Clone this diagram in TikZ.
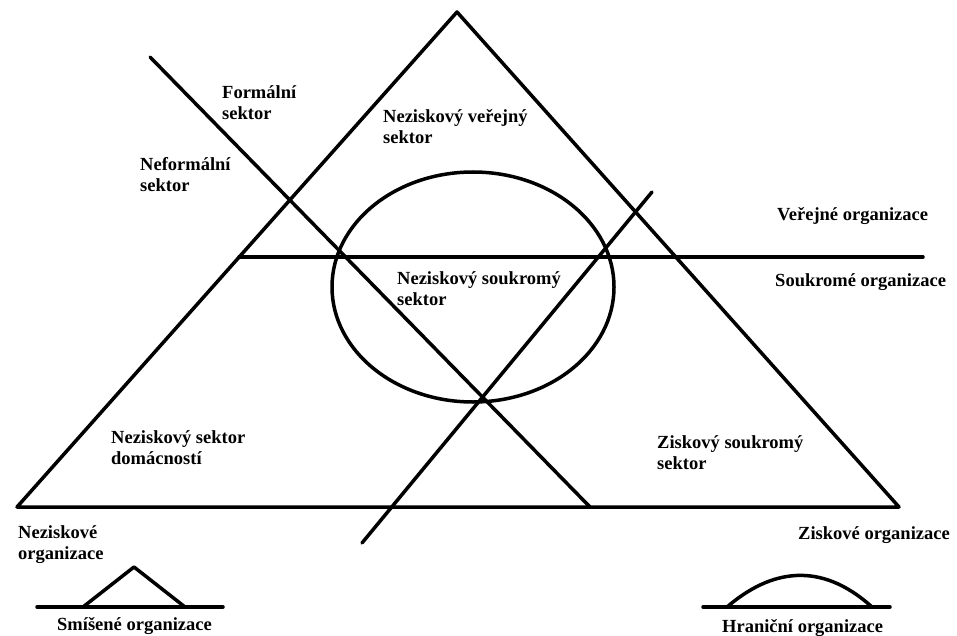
\documentclass[tikz,border=0pt]{standalone}
\usepackage{fontspec}
\setmainfont{Liberation Serif}
\usepackage{tikz}
\newcommand{\ftexte}{\fontsize{18.5}{21}\selectfont\bfseries}

\begin{document}
\begin{tikzpicture}[x=1pt, y=-1pt,
  trait/.style = {line width=3.5pt, line cap=round, line join=round},
  every node/.style = {font=\ftexte, inner sep=0pt,
    anchor=west, align=left}]
  \useasboundingbox (0,0) rectangle (957,636);
  % points du grand triangle
  \coordinate (sommet) at (457,12);
  \coordinate (basg) at (17,507);
  \coordinate (basd) at (899,507);
  \coordinate (hg) at (239,257);
  \coordinate (hd) at (923,257);
  \coordinate (d1a) at (150,57);
  \coordinate (d1b) at (590,507);
  \coordinate (d2a) at (362,543);
  \coordinate (d2b) at (652,192);
  \draw[trait] (sommet) -- (basd) -- (basg) -- cycle;
  \draw[trait] (hg) -- (hd);
  \draw[trait] (d1a) -- (d1b);
  \draw[trait] (d2a) -- (d2b);
  \draw[trait] (473,287) ellipse [x radius=141pt, y radius=115pt];
  % textes
  \node (formal) at (222,103) {Formální\\sektor};
  \node (neformal) at (140,175) {Neformální\\sektor};
  \node (verejny) at (383,127) {Neziskový veřejný\\sektor};
  \node (soukromy) at (397,289) {Neziskový soukromý\\sektor};
  \node (domacnost) at (111,448) {Neziskový sektor\\domácností};
  \node (ziskovy) at (657,453) {Ziskový soukromý\\sektor};
  \node (verorg) at (777,216) {Veřejné organizace};
  \node (soukorg) at (775,282) {Soukromé organizace};
  \node (nezorg) at (18,545) {Neziskové\\organizace};
  \node (ziskorg) at (798,535) {Ziskové organizace};
  % petits schemas du bas
  \coordinate (smg) at (37,607);
  \coordinate (smd) at (223,607);
  \coordinate (hrg) at (703,607);
  \coordinate (hrd) at (890,607);
  \draw[trait] (smg) -- (smd);
  \draw[trait] (83,607) -- (134,567) -- (185,607);
  \draw[trait] (hrg) -- (hrd);
  \draw[trait] (727,607) .. controls (770,570) and (820,560) .. (872,607);
  \node (smisene) at (57,626) {Smíšené organizace};
  \node (hranicni) at (722,628) {Hraniční organizace};
\end{tikzpicture}
\end{document}
